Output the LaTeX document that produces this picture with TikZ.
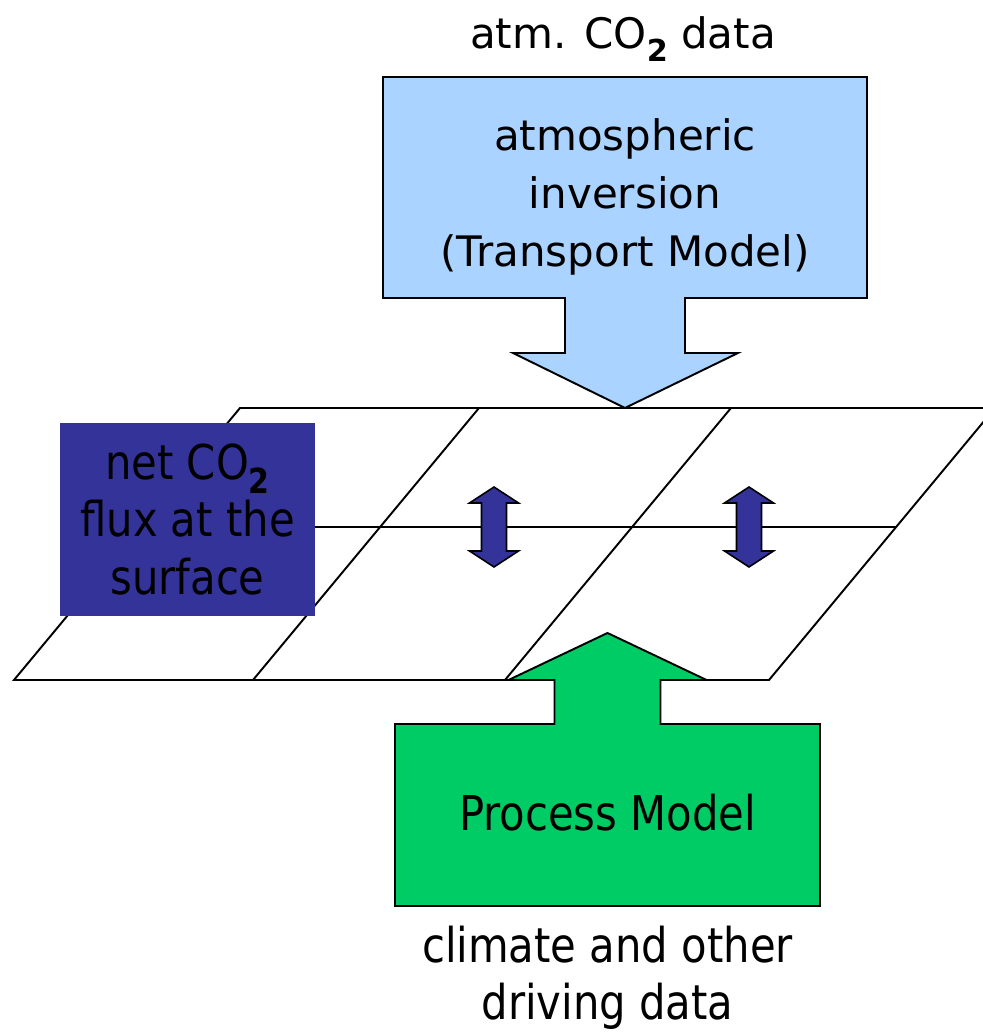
\documentclass[tikz,border=0pt]{standalone}
\usepackage{fontspec}
\setmainfont{DejaVu Sans}
\newfontfamily\narrowsans[FakeStretch=0.87]{DejaVu Sans}
\usepackage{graphicx}
\usepackage{tikz}
\usetikzlibrary{calc}

\definecolor{invblue}{RGB}{170,212,255}
\definecolor{fluxnavy}{RGB}{51,51,153}
\definecolor{procgreen}{RGB}{0,204,102}

\newcommand{\cotwo}{CO\raisebox{-0.3em}{\scalebox{0.72}{\bfseries 2}}}
\newcommand{\wideface}{\fontsize{23.9}{33}\selectfont}
\newcommand{\narrowface}{\narrowsans\fontsize{27.3}{32.7}\selectfont}

\begin{document}
\begin{tikzpicture}[line width=1.1pt,
  callout/.style={draw=black,line join=miter},
  wide/.style={font=\wideface,align=center},
  narrow/.style={font=\narrowface,align=center},
  updown/.pic={\draw[fill=fluxnavy,line width=0.9pt] (0,0.8) -- (0.49,0.48) -- (0.25,0.48) -- (0.25,-0.48)
     -- (0.49,-0.48) -- (0,-0.8) -- (-0.49,-0.48) -- (-0.25,-0.48) -- (-0.25,0.48) -- (-0.49,0.48) -- cycle;}]
\useasboundingbox (0,0) rectangle (19.66,20.64);
\clip (0,0) rectangle (19.66,20.64);

% Surface grid
\coordinate (TL) at (4.80,12.48);
\coordinate (TR) at (19.90,12.48);
\coordinate (BL) at (0.28,7.04);
\coordinate (BR) at (15.38,7.04);
\draw (TL) -- (TR) -- (BR) -- (BL) -- cycle;
\draw ($(TL)!0.4375!(BL)$) -- ($(TR)!0.4375!(BR)$);
\draw (9.58,12.48) -- (5.06,7.04);
\draw (14.62,12.48) -- (10.10,7.04);

% Transport model arrow
\draw[callout,fill=invblue] (7.66,19.10) -- (17.34,19.10) -- (17.34,14.68) -- (13.70,14.68) -- (13.70,13.58)
  -- (14.76,13.58) -- (12.50,12.48) -- (10.26,13.58) -- (11.30,13.58) -- (11.30,14.68) -- (7.66,14.68) -- cycle;
\node[wide] (inv) at (12.50,16.70) {atmospheric\\inversion\\(Transport Model)};
\node[wide,anchor=base] (obs) at (12.46,19.66) {atm. \cotwo{} data};

% Net flux box
\node[narrow,fill=fluxnavy,minimum width=5.10cm,minimum height=3.86cm] (flux) at (3.75,10.25)
  {net \cotwo\\flux at the\\surface};

% Up-down arrows
\foreach \x in {9.88,14.98}
  \pic at (\x,10.10) {updown};

% Process model arrow
\draw[callout,fill=procgreen] (7.90,2.52) -- (16.40,2.52) -- (16.40,6.16) -- (13.21,6.16) -- (13.21,7.04)
  -- (14.13,7.04) -- (12.15,7.98) -- (10.17,7.04) -- (11.09,7.04) -- (11.09,6.16) -- (7.90,6.16) -- cycle;
\node[narrow,anchor=base] (proc) at (12.15,4.02) {Process Model};
\node[narrow] (drv) at (12.15,1.08) {climate and other\\driving data};
\end{tikzpicture}
\end{document}
